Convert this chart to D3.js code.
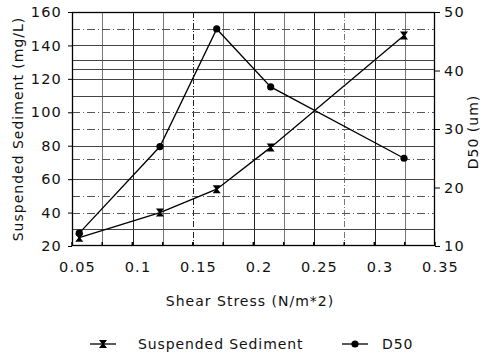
<!DOCTYPE html>
<html>
<head>
<meta charset="utf-8">
<script src="https://cdn.jsdelivr.net/npm/d3@7"></script>
<style>
  body { margin: 0; background: #fff; }
  text { font-family: "DejaVu Sans", sans-serif; fill: #111; }
</style>
</head>
<body>
<svg id="chart"></svg>
<script>
// shear stress values (x)
const shear = [0.056, 0.1227, 0.1696, 0.2142, 0.3244]
// suspended sediment, mg/L (left axis)
const suspended = [25, 40, 54, 79, 146]
// D50, um (right axis)
const d50 = [12.2, 27, 47.1, 37.2, 25]

const xTicks = [0.05, 0.1, 0.15, 0.2, 0.25, 0.3, 0.35]
const leftTicks = [20, 40, 60, 80, 100, 120, 140, 160]
const rightTicks = [10, 20, 30, 40, 50]
// grid lines
const vGrid = [0.075, 0.1, 0.125, 0.15, 0.175, 0.2, 0.225, 0.25, 0.275, 0.3, 0.325]
const hGridSolid = [30, 60, 80, 110, 120, 126, 131, 140]
const hGridDashed = [40, 50, 72, 90, 100, 150]

const width = 486, height = 356
const padLeft = 72, padRight = 435, padTop = 12, padBottom = 246

let svg = d3.select('#chart').attr('width', width).attr('height', height)

let x = d3.scaleLinear().domain([0.05, 0.35]).range([padLeft, padRight])
let y = d3.scaleLinear().domain([20, 160]).range([padBottom, padTop])
let yR = d3.scaleLinear().domain([10, 50]).range([padBottom, padTop])

// grid
let grid = svg.append('g')
grid.selectAll('.vg').data(vGrid).join('line')
    .attr('x1', d => Math.round(x(d)) + 0.5).attr('x2', d => Math.round(x(d)) + 0.5)
    .attr('y1', padTop).attr('y2', padBottom)
    .attr('stroke', (d, i) => i % 2 ? '#222' : '#777')
    .attr('stroke-dasharray', (d, i) => (i === 3 || i === 8) ? '6,2,1,2' : null)
    .attr('stroke-width', 1)
grid.selectAll('.hs').data(hGridSolid).join('line')
    .attr('x1', padLeft).attr('x2', padRight)
    .attr('y1', d => Math.round(y(d)) + 0.5).attr('y2', d => Math.round(y(d)) + 0.5)
    .attr('stroke', '#444').attr('stroke-width', 1)
grid.selectAll('.hd').data(hGridDashed).join('line')
    .attr('x1', padLeft).attr('x2', padRight)
    .attr('y1', d => Math.round(y(d)) + 0.5).attr('y2', d => Math.round(y(d)) + 0.5)
    .attr('stroke', '#555').attr('stroke-width', 1)
    .attr('stroke-dasharray', '8,3,1,3')

// frame
svg.append('rect').attr('x', padLeft + 0.5).attr('y', padTop + 0.5)
    .attr('width', padRight - padLeft - 1).attr('height', padBottom - padTop - 1)
    .attr('fill', 'none').attr('stroke', '#000').attr('stroke-width', 1.3)

// axes
let xAxis = d3.axisBottom(x).tickValues(xTicks).tickSize(0).tickPadding(16)
    .tickFormat(d => d3.format('')(d))
let gx = svg.append('g').attr('transform', `translate(0,${padBottom})`).call(xAxis)
gx.select('.domain').remove()
gx.selectAll('text').attr('font-size', 14.5).attr('dx', 5).attr('letter-spacing', 1.2)
    .attr('font-family', '"DejaVu Sans", sans-serif')

// small inside ticks on the x axis
svg.append('g').selectAll('line').data(vGrid.concat(xTicks)).join('line')
    .attr('x1', d => x(d)).attr('x2', d => x(d))
    .attr('y1', padBottom).attr('y2', padBottom - 4)
    .attr('stroke', '#000').attr('stroke-width', 1.5)

let yAxis = d3.axisLeft(y).tickValues(leftTicks).tickSize(4).tickPadding(6)
let gy = svg.append('g').attr('transform', `translate(${padLeft},0)`).call(yAxis)
gy.select('.domain').remove()
gy.selectAll('text').attr('font-size', 14.5).attr('letter-spacing', 1.2)
    .attr('font-family', '"DejaVu Sans", sans-serif')

let yRAxis = d3.axisRight(yR).tickValues(rightTicks).tickSize(5).tickPadding(4)
let gyR = svg.append('g').attr('transform', `translate(${padRight},0)`).call(yRAxis)
gyR.select('.domain').remove()
gyR.selectAll('text').attr('font-size', 14.5).attr('letter-spacing', 1.2)
    .attr('font-family', '"DejaVu Sans", sans-serif')

// axis titles
svg.append('text').attr('transform', `translate(23,${(padTop + padBottom) / 2}) rotate(-90)`)
    .attr('text-anchor', 'middle').attr('font-size', 14).attr('letter-spacing', 1)
    .text('Suspended Sediment (mg/L)')
svg.append('text').attr('transform', `translate(478,132) rotate(-90)`)
    .attr('text-anchor', 'middle').attr('font-size', 14).attr('letter-spacing', 1)
    .text('D50 (um)')
svg.append('text').attr('x', 250).attr('y', 306)
    .attr('text-anchor', 'middle').attr('font-size', 14).attr('letter-spacing', 1)
    .text('Shear Stress (N/m*2)')

// lines
let lineS = d3.line().x((d, i) => x(shear[i])).y(d => y(d))
let lineD = d3.line().x((d, i) => x(shear[i])).y(d => yR(d))
svg.append('path').attr('d', lineS(suspended)).attr('fill', 'none')
    .attr('stroke', '#000').attr('stroke-width', 1.3)
svg.append('path').attr('d', lineD(d50)).attr('fill', 'none')
    .attr('stroke', '#000').attr('stroke-width', 1.3)

// markers
const hourglass = 'M-4,-4 L4,-4 L1,0 L4,4 L-4,4 L-1,0 Z'
svg.append('g').selectAll('path').data(suspended).join('path')
    .attr('d', hourglass)
    .attr('transform', (d, i) => `translate(${x(shear[i])},${y(d)})`)
    .attr('fill', '#000')
svg.append('g').selectAll('circle').data(d50).join('circle')
    .attr('cx', (d, i) => x(shear[i])).attr('cy', d => yR(d))
    .attr('r', 3.6).attr('fill', '#000')

// legend
let lg = svg.append('g')
lg.append('line').attr('x1', 90).attr('x2', 116).attr('y1', 344).attr('y2', 344)
    .attr('stroke', '#000').attr('stroke-width', 1.3)
lg.append('path').attr('d', hourglass).attr('transform', 'translate(103,344)').attr('fill', '#000')
lg.append('text').attr('x', 138).attr('y', 349).attr('font-size', 14).attr('letter-spacing', 0.9)
    .text('Suspended Sediment')
lg.append('line').attr('x1', 342).attr('x2', 368).attr('y1', 344).attr('y2', 344)
    .attr('stroke', '#000').attr('stroke-width', 1.3)
lg.append('circle').attr('cx', 355).attr('cy', 344).attr('r', 3.6).attr('fill', '#000')
lg.append('text').attr('x', 382).attr('y', 349).attr('font-size', 14).attr('letter-spacing', 0.9)
    .text('D50')
</script>
</body>
</html>
